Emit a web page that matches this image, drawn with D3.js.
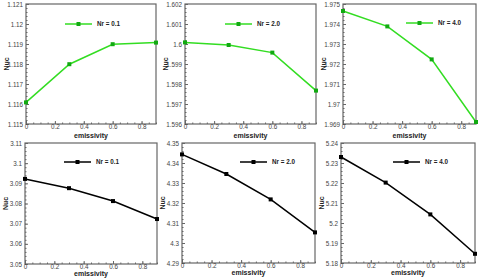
<!DOCTYPE html>
<html>
<head>
<meta charset="utf-8">
<script src="https://cdn.jsdelivr.net/npm/d3@7"></script>
<style>
  body { margin: 0; background: #fff; }
  svg { display: block; font-family: "Liberation Sans", Arial, sans-serif; }
</style>
</head>
<body>
<svg id="svg" width="480" height="278"></svg>
<script>
// data
var emissivity = [0, 0.3, 0.6, 0.9]
var nrLabels = ["Nr = 0.1", "Nr = 2.0", "Nr = 4.0"]
var nucTop01 = [1.11608, 1.11799, 1.11899, 1.11907]
var nucTop20 = [1.60008, 1.59995, 1.59957, 1.59767]
var nucTop40 = [1.97465, 1.97388, 1.97223, 1.96910]
var nucBot01 = [3.0922, 3.0876, 3.0812, 3.0723]
var nucBot20 = [4.3443, 4.3345, 4.3218, 4.3053]
var nucBot40 = [5.2330, 5.2202, 5.2043, 5.1846]
var yDomains = [[1.115, 1.121], [1.596, 1.602], [1.969, 1.975],
                [3.05, 3.11], [4.29, 4.35], [5.18, 5.24]]
var xTicks = [0, 0.2, 0.4, 0.6, 0.8]

var panels = [
  {x0: 26, x1: 156, y0: 4, y1: 124, vals: nucTop01, dom: yDomains[0], label: nrLabels[0], color: "#33dd22", mark: "#11aa11", leg: [65, 24], tdy: 14},
  {x0: 185, x1: 316, y0: 4, y1: 124, vals: nucTop20, dom: yDomains[1], label: nrLabels[1], color: "#33dd22", mark: "#11aa11", leg: [225, 24], tdy: 14},
  {x0: 343, x1: 476, y0: 4, y1: 124, vals: nucTop40, dom: yDomains[2], label: nrLabels[2], color: "#33dd22", mark: "#11aa11", leg: [406, 23], tdy: 14},
  {x0: 25, x1: 157, y0: 143, y1: 264, vals: nucBot01, dom: yDomains[3], label: nrLabels[0], color: "#000", mark: "#000", leg: [64, 162], tdy: 11.5},
  {x0: 182, x1: 315, y0: 143, y1: 263, vals: nucBot20, dom: yDomains[4], label: nrLabels[1], color: "#000", mark: "#000", leg: [240, 162], tdy: 12},
  {x0: 341, x1: 475, y0: 143, y1: 263, vals: nucBot40, dom: yDomains[5], label: nrLabels[2], color: "#000", mark: "#000", leg: [393, 162], tdy: 12}
]

var fmt = d => String(parseFloat(d.toFixed(4)))
var svg = d3.select("#svg")
var axisColor = "#666"

panels.forEach(function(p) {
  var x = d3.scaleLinear().domain([0, 0.9]).range([p.x0, p.x1])
  var y = d3.scaleLinear().domain(p.dom).range([p.y1, p.y0])
  var step = (p.dom[1] - p.dom[0]) / 6
  var yTicks = d3.range(7).map(i => p.dom[0] + i * step)
  var yMinor = d3.range(31).map(i => p.dom[0] + i * step / 5)
  var xMinor = d3.range(0, 0.9001, 0.05)

  var g = svg.append("g")

  // frame
  g.append("rect")
    .attr("x", p.x0).attr("y", p.y0)
    .attr("width", p.x1 - p.x0).attr("height", p.y1 - p.y0)
    .attr("fill", "none").attr("stroke", axisColor).attr("stroke-width", 1.2)

  // ticks, inward
  g.append("g").attr("transform", `translate(${p.x0},0)`)
    .call(d3.axisRight(y).tickValues(yMinor).tickSize(1.5).tickFormat(""))
    .call(a => a.select(".domain").remove())
    .selectAll("line").attr("stroke", axisColor)
  g.append("g").attr("transform", `translate(${p.x0},0)`)
    .call(d3.axisLeft(y).tickValues(yTicks).tickSize(-3).tickPadding(3).tickFormat(fmt))
    .call(a => a.select(".domain").remove())
    .call(a => a.selectAll("line").attr("stroke", axisColor))
    .call(a => a.selectAll("text").attr("fill", "#444").style("font-size", "6.3px").style("font-family", "Liberation Sans"))

  g.append("g").attr("transform", `translate(0,${p.y1})`)
    .call(d3.axisTop(x).tickValues(xMinor).tickSize(1.5).tickFormat(""))
    .call(a => a.select(".domain").remove())
    .selectAll("line").attr("stroke", axisColor)
  g.append("g").attr("transform", `translate(0,${p.y1})`)
    .call(d3.axisBottom(x).tickValues(xTicks).tickSize(-3).tickPadding(1).tickFormat(fmt))
    .call(a => a.select(".domain").remove())
    .call(a => a.selectAll("line").attr("stroke", axisColor))
    .call(a => a.selectAll("text").attr("fill", "#444").style("font-size", "6.3px").style("font-family", "Liberation Sans"))

  // axis titles
  g.append("text")
    .attr("x", (p.x0 + p.x1) / 2).attr("y", p.y1 + p.tdy)
    .attr("text-anchor", "middle")
    .style("font-size", "7px").style("font-weight", "bold").attr("fill", "#222")
    .text("emissivity")
  g.append("text")
    .attr("transform", `translate(${p.x0 - 17},${(p.y0 + p.y1) / 2}) rotate(-90)`)
    .attr("text-anchor", "middle")
    .style("font-size", "7px").style("font-weight", "bold").attr("fill", "#222")
    .text("Nuc")

  // series
  var line = d3.line().x((d, i) => x(emissivity[i])).y(d => y(d))
  g.append("path").datum(p.vals)
    .attr("d", line).attr("fill", "none")
    .attr("stroke", p.color).attr("stroke-width", 1.5)
  g.selectAll("rect.pt").data(p.vals).join("rect")
    .attr("class", "pt")
    .attr("x", (d, i) => x(emissivity[i]) - 2).attr("y", d => y(d) - 2)
    .attr("width", 4).attr("height", 4)
    .attr("fill", p.mark)

  // legend
  var lx = p.leg[0], ly = p.leg[1]
  g.append("line")
    .attr("x1", lx).attr("x2", lx + 27).attr("y1", ly).attr("y2", ly)
    .attr("stroke", p.color).attr("stroke-width", 1.5)
  g.append("rect")
    .attr("x", lx + 11.5).attr("y", ly - 2).attr("width", 4).attr("height", 4)
    .attr("fill", p.mark)
  g.append("text")
    .attr("x", lx + 32).attr("y", ly + 2.3)
    .style("font-size", "6.3px").style("font-weight", "bold").attr("fill", "#222")
    .text(p.label)
})
</script>
</body>
</html>
